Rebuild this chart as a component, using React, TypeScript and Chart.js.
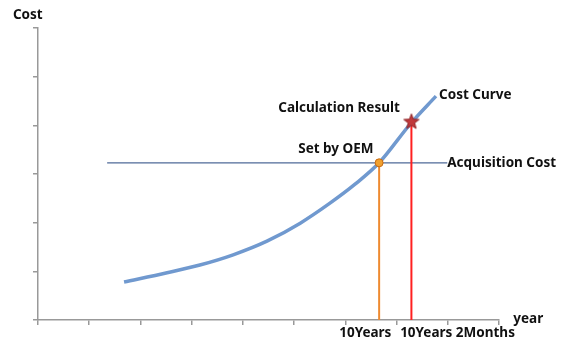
import React, { useEffect, useRef } from "react";
import { Chart, registerables } from "chart.js";

Chart.register(...registerables);

// Cost curve (x in axis units, y in axis units)
const curveX = [1.68, 2.52, 3.16, 3.81, 4.47, 5.12, 5.7, 6.19, 6.66, 7.27, 7.77];
const curveY = [0.78, 0.97, 1.13, 1.34, 1.62, 1.99, 2.4, 2.79, 3.23, 4.03, 4.6];

const acquisitionCost = 3.23;
const acquisitionFromX = 1.35;
const acquisitionToX = 7.99;

const oemYear = 6.66; // 10 Years
const calcYear = 7.29; // 10 Years 2 Months
const calcCost = 4.08;

const xTickCount = 9;
const yTickCount = 6;

const labelTexts = ["Cost", "year", "10Years", "10Years 2Months", "Cost Curve", "Calculation Result", "Set by OEM", "Acquisition Cost"];
const labelX = [-0.49, 9.28, 5.88, 7.07, 7.83, 4.69, 5.08, 7.99];
const labelY = [6.27, 0.02, -0.27, -0.27, 4.62, 4.36, 3.51, 3.23];

function makeStar(): HTMLCanvasElement {
  const c = document.createElement("canvas");
  const s = 18;
  c.width = s;
  c.height = s;
  const ctx = c.getContext("2d")!;
  const cx = s / 2, cy = s / 2 + 0.5, R = 8, r = 3.4;
  ctx.beginPath();
  for (let i = 0; i < 10; i++) {
    const rad = i % 2 === 0 ? R : r;
    const a = -Math.PI / 2 + (i * Math.PI) / 5;
    const px = cx + rad * Math.cos(a);
    const py = cy + rad * Math.sin(a);
    if (i === 0) ctx.moveTo(px, py);
    else ctx.lineTo(px, py);
  }
  ctx.closePath();
  ctx.fillStyle = "#c0393b";
  ctx.fill();
  ctx.strokeStyle = "#8e2426";
  ctx.lineWidth = 1;
  ctx.stroke();
  return c;
}

const textPlugin = {
  id: "textLabels",
  afterDraw(chart: any) {
    const ctx = chart.ctx;
    const xs = chart.scales.x;
    const ys = chart.scales.y;
    ctx.save();
    ctx.fillStyle = "#111";
    ctx.font = "bold 13.5px 'Noto Sans', 'Open Sans', sans-serif";
    ctx.textAlign = "left";
    ctx.textBaseline = "middle";
    labelTexts.forEach((t, i) => {
      ctx.fillText(t, xs.getPixelForValue(labelX[i]), ys.getPixelForValue(labelY[i]));
    });
    ctx.restore();
  },
};

export default function App() {
  const ref = useRef<HTMLCanvasElement>(null);
  useEffect(() => {
    const star = makeStar();
    const chart = new Chart(ref.current!, {
      type: "scatter",
      data: {
        datasets: [
          {
            data: [{ x: calcYear, y: calcCost }],
            pointStyle: star as any,
            pointRadius: 9,
            showLine: false,
          },
          {
            data: [{ x: oemYear, y: acquisitionCost }],
            pointStyle: "circle",
            pointRadius: 4,
            backgroundColor: "#f0a030",
            borderColor: "#c86a10",
            borderWidth: 1,
            showLine: false,
          },
          {
            data: curveX.map((x, i) => ({ x, y: curveY[i] })),
            showLine: true,
            borderColor: "#7099cf",
            borderWidth: 3.5,
            pointRadius: 0,
            cubicInterpolationMode: "monotone",
          },
          {
            data: [{ x: calcYear, y: 0 }, { x: calcYear, y: calcCost }],
            showLine: true,
            borderColor: "#ff2020",
            borderWidth: 2,
            pointRadius: 0,
          },
          {
            data: [{ x: oemYear, y: 0 }, { x: oemYear, y: acquisitionCost }],
            showLine: true,
            borderColor: "#ee8a30",
            borderWidth: 2,
            pointRadius: 0,
          },
          {
            data: [{ x: acquisitionFromX, y: acquisitionCost }, { x: acquisitionToX, y: acquisitionCost }],
            showLine: true,
            borderColor: "#4f6a98",
            borderWidth: 1.2,
            pointRadius: 0,
          },
        ],
      },
      options: {
        responsive: false,
        animation: false,
        layout: { padding: { left: 33, right: 64, top: 28, bottom: 18 } },
        plugins: { legend: { display: false }, tooltip: { enabled: false } },
        scales: {
          x: {
            type: "linear",
            min: 0,
            max: xTickCount,
            ticks: { display: false, stepSize: 1 },
            grid: { drawOnChartArea: false, drawTicks: true, tickLength: 5, color: "#999999", lineWidth: 1.5 },
            border: { display: true, color: "#999999", width: 1.5 },
          },
          y: {
            type: "linear",
            min: 0,
            max: yTickCount,
            ticks: { display: false, stepSize: 1 },
            grid: { drawOnChartArea: false, drawTicks: true, tickLength: 5, color: "#999999", lineWidth: 1.5 },
            border: { display: true, color: "#999999", width: 1.5 },
          },
        },
      },
      plugins: [textPlugin],
    });
    return () => chart.destroy();
  }, []);
  return (
    <div style={{ position: "fixed", left: 0, top: 0, width: 563, height: 343, background: "#fff" }}>
      <canvas ref={ref} width={563} height={343} />
    </div>
  );
}
